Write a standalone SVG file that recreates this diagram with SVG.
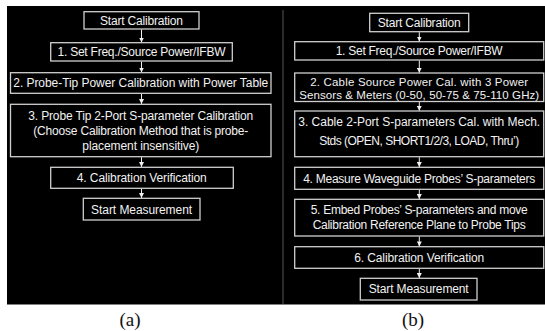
<svg xmlns="http://www.w3.org/2000/svg" width="545" height="331" viewBox="0 0 545 331">
<defs>
<marker id="ah" markerUnits="userSpaceOnUse" markerWidth="6" markerHeight="5" refX="5" refY="2.5" orient="auto">
<path d="M0,0 L5,2.5 L0,5 Z" fill="#f0f0f0"/>
</marker>
<style>
.box{fill:#000;stroke:#cfcfcf;stroke-width:1.3}
.t{font-family:"Liberation Sans",Arial,sans-serif;font-size:12px;fill:#f2f2f2;text-anchor:middle}
.s{font-size:11.5px}
.cap{font-family:"Liberation Serif","Times New Roman",serif;font-size:19px;fill:#111;text-anchor:middle}
.c{stroke:#f0f0f0;stroke-width:1;fill:none;marker-end:url(#ah)}
</style>
</defs>
<rect x="0" y="0" width="545" height="331" fill="#fff"/>
<rect x="7" y="6" width="538" height="298.5" fill="#000"/>
<line x1="283" y1="10" x2="283" y2="304" stroke="#3a3a3a" stroke-width="1.5"/>

<g id="connectors">
<line class="c" x1="141.5" y1="29.5" x2="141.5" y2="42.5"/>
<line class="c" x1="141.5" y1="61.5" x2="141.5" y2="72.5"/>
<line class="c" x1="141.5" y1="93.8" x2="141.5" y2="104"/>
<line class="c" x1="141.5" y1="157.2" x2="141.5" y2="167"/>
<line class="c" x1="141.5" y1="188.8" x2="141.5" y2="198"/>
<line class="c" x1="419.3" y1="32.2" x2="419.3" y2="41.5"/>
<line class="c" x1="419.3" y1="60.5" x2="419.3" y2="72.8"/>
<line class="c" x1="419.3" y1="102" x2="419.3" y2="110.8"/>
<line class="c" x1="419.3" y1="157.2" x2="419.3" y2="167"/>
<line class="c" x1="419.3" y1="189.8" x2="419.3" y2="199"/>
<line class="c" x1="419.3" y1="236.5" x2="419.3" y2="246.4"/>
<line class="c" x1="419.3" y1="268.8" x2="419.3" y2="278"/>
</g>

<g id="a-start">
<rect class="box" x="84" y="11.7" width="115" height="17.3"/>
<text class="t" x="141.5" y="24.5" textLength="83">Start Calibration</text>
</g>
<g id="a-step1">
<rect class="box" x="50.7" y="42.7" width="181.6" height="18.3"/>
<text class="t" x="141.5" y="56.2" textLength="168">1. Set Freq./Source Power/IFBW</text>
</g>
<g id="a-step2">
<rect class="box" x="10.5" y="72.7" width="260.5" height="20.6"/>
<text class="t" x="140.8" y="87.4" textLength="255">2. Probe-Tip Power Calibration with Power Table</text>
</g>
<g id="a-step3">
<rect class="box" x="10.5" y="104.3" width="260.5" height="52.4"/>
<text class="t" x="140.8" y="120.2" textLength="225">3. Probe Tip 2-Port S-parameter Calibration</text>
<text class="t" x="140.8" y="134.9" textLength="215">(Choose Calibration Method that is probe-</text>
<text class="t" x="140.8" y="150.2" textLength="117">placement insensitive)</text>
</g>
<g id="a-step4">
<rect class="box" x="50.7" y="167.3" width="182.6" height="21"/>
<text class="t" x="141.8" y="182.2" textLength="130">4. Calibration Verification</text>
</g>
<g id="a-end">
<rect class="box" x="83.3" y="198.3" width="116.7" height="21.7"/>
<text class="t" x="141.6" y="213.5" textLength="101">Start Measurement</text>
</g>

<g id="b-start">
<rect class="box" x="369.7" y="13.3" width="99" height="18.4"/>
<text class="t" x="419.2" y="26.5" textLength="83">Start Calibration</text>
</g>
<g id="b-step1">
<rect class="box" x="294.7" y="41.7" width="249" height="18.3"/>
<text class="t" x="419.2" y="55.2" textLength="167">1. Set Freq./Source Power/IFBW</text>
</g>
<g id="b-step2">
<rect class="box" x="294.7" y="73" width="249" height="28.5"/>
<text class="t s" x="419.2" y="85.8" textLength="218">2. Cable Source Power Cal. with 3 Power</text>
<text class="t s" x="419.2" y="99.2" textLength="240">Sensors &amp; Meters (0-50, 50-75 &amp; 75-110 GHz)</text>
</g>
<g id="b-step3">
<rect class="box" x="294.7" y="111" width="249" height="45.7"/>
<text class="t" x="419.2" y="125.5" textLength="242">3. Cable 2-Port S-parameters Cal. with Mech.</text>
<text class="t" x="419.2" y="144.5" textLength="200">Stds (OPEN, SHORT1/2/3, LOAD, Thru’)</text>
</g>
<g id="b-step4">
<rect class="box" x="294.7" y="167.3" width="249" height="22"/>
<text class="t" x="419.2" y="182.5" textLength="232">4. Measure Waveguide Probes’ S-parameters</text>
</g>
<g id="b-step5">
<rect class="box" x="294.7" y="199.3" width="249" height="36.7"/>
<text class="t" x="419.2" y="214.2" textLength="217">5. Embed Probes’ S-parameters and move</text>
<text class="t" x="419.2" y="229.2" textLength="213">Calibration Reference Plane to Probe Tips</text>
</g>
<g id="b-step6">
<rect class="box" x="294.7" y="246.7" width="249" height="21.6"/>
<text class="t" x="419.2" y="261.7" textLength="130">6. Calibration Verification</text>
</g>
<g id="b-end">
<rect class="box" x="360.3" y="278.3" width="116.7" height="21.7"/>
<text class="t" x="418.7" y="293.4" textLength="100">Start Measurement</text>
</g>

<text class="cap" x="130" y="326">(a)</text>
<text class="cap" x="413" y="326">(b)</text>
</svg>
